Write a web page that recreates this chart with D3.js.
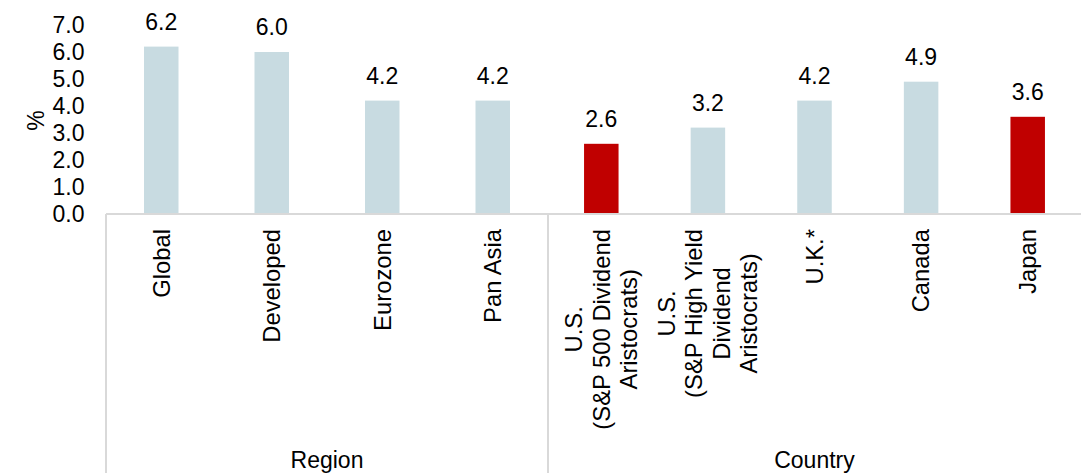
<!DOCTYPE html>
<html>
<head>
<meta charset="utf-8">
<script src="https://cdn.jsdelivr.net/npm/d3@7"></script>
<style>
  html, body { margin: 0; padding: 0; background: #fff; }
  svg { display: block; font-family: "Liberation Sans", Arial, sans-serif; }
</style>
</head>
<body>
<div id="chart"></div>
<script>
const width = 1081,
  height = 473;

// data
const groups = ["Region", "Country"];
const regionCats = ["Global", "Developed", "Eurozone", "Pan Asia"];
const regionVals = [6.2, 6.0, 4.2, 4.2];
const countryCats = [
  "U.S.\n(S&P 500 Dividend\nAristocrats)",
  "U.S.\n(S&P High Yield\nDividend\nAristocrats)",
  "U.K.*",
  "Canada",
  "Japan"
];
const countryVals = [2.6, 3.2, 4.2, 4.9, 3.6];
const highlighted = ["U.S.\n(S&P 500 Dividend\nAristocrats)", "Japan"];
const yTicks = [0, 1, 2, 3, 4, 5, 6, 7];

// layout
const left = 106,
  split = 548,
  right = 1081,
  baseY = 214,
  topY = 25,
  barW = 34.5,
  fontSize = 23,
  catFont = 23.8,
  lineGap = 27.5,
  labelTop = 229;

const blue = "#c8dbe1",
  red = "#c00000",
  grid = "#d9d9d9";

const svg = d3
  .select("#chart")
  .append("svg")
  .attr("width", width)
  .attr("height", height);

const y = d3.scaleLinear().domain([0, 7]).range([baseY, topY]);

const xRegion = d3.scaleBand().domain(regionCats).range([left, split]);
const xCountry = d3.scaleBand().domain(countryCats).range([split, right]);
const xGroup = d3.scaleOrdinal().domain(groups).range([[left, split], [split, right]]);

const rows = regionCats
  .map((c, i) => ({ cat: c, val: regionVals[i], x: xRegion }))
  .concat(countryCats.map((c, i) => ({ cat: c, val: countryVals[i], x: xCountry })));

const cx = (d) => d.x(d.cat) + d.x.bandwidth() / 2;

// y tick labels (no axis line)
svg
  .append("g")
  .selectAll("text")
  .data(yTicks)
  .join("text")
  .attr("x", 84.5)
  .attr("y", (d) => y(d))
  .attr("dy", "0.35em")
  .attr("text-anchor", "end")
  .attr("font-size", fontSize)
  .text((d) => d3.format(".1f")(d));

svg
  .append("text")
  .attr("transform", `translate(44,${(baseY + topY) / 2 + 1}) rotate(-90)`)
  .attr("text-anchor", "middle")
  .attr("font-size", fontSize)
  .text("%");

// bars
svg
  .append("g")
  .selectAll("rect")
  .data(rows)
  .join("rect")
  .attr("x", (d) => cx(d) - barW / 2)
  .attr("y", (d) => y(d.val))
  .attr("width", barW)
  .attr("height", (d) => y(0) - y(d.val))
  .attr("fill", (d) => (highlighted.includes(d.cat) ? red : blue));

// value labels
svg
  .append("g")
  .selectAll("text")
  .data(rows)
  .join("text")
  .attr("x", cx)
  .attr("y", (d) => y(d.val) - 17)
  .attr("text-anchor", "middle")
  .attr("font-size", fontSize)
  .text((d) => d3.format(".1f")(d.val));

// axis line + group separators
svg
  .append("line")
  .attr("x1", left)
  .attr("x2", right)
  .attr("y1", baseY)
  .attr("y2", baseY)
  .attr("stroke", grid)
  .attr("stroke-width", 2);

svg
  .append("g")
  .selectAll("line")
  .data([left, split])
  .join("line")
  .attr("x1", (d) => d)
  .attr("x2", (d) => d)
  .attr("y1", baseY)
  .attr("y2", height)
  .attr("stroke", grid)
  .attr("stroke-width", 2);

// rotated category labels
const lab = svg
  .append("g")
  .selectAll("g")
  .data(rows)
  .join("g")
  .attr("transform", (d) => `translate(${cx(d)},${labelTop}) rotate(-90)`);

lab.each(function (d) {
  const g = d3.select(this);
  const lines = d.cat.split("\n");
  const n = lines.length;
  const texts = lines.map((t, j) =>
    g
      .append("text")
      .attr("y", (j - (n - 1) / 2) * lineGap)
      .attr("dy", "0.35em")
      .attr("text-anchor", "middle")
      .attr("font-size", catFont)
      .text(t)
  );
  const maxLen = d3.max(texts, (t) => t.node().getComputedTextLength());
  texts.forEach((t) => t.attr("x", -maxLen / 2));
});

// group labels
svg
  .append("g")
  .selectAll("text")
  .data(groups)
  .join("text")
  .attr("x", (d) => (xGroup(d)[0] + xGroup(d)[1]) / 2)
  .attr("y", 468)
  .attr("text-anchor", "middle")
  .attr("font-size", fontSize)
  .text((d) => d);
</script>
</body>
</html>
